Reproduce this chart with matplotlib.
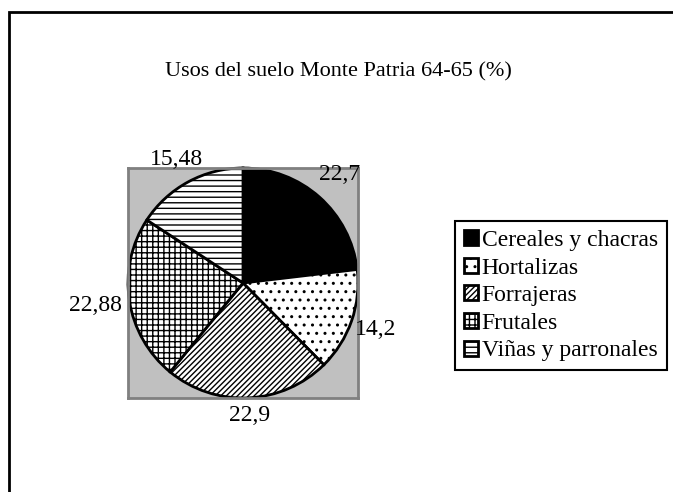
import matplotlib
matplotlib.use('Agg')
import numpy as np
import matplotlib.pyplot as plt
from matplotlib.patches import Rectangle

plt.rcParams['font.family'] = ['Liberation Serif', 'DejaVu Serif']
plt.rcParams['hatch.linewidth'] = 1.0

# Data
categories = ['Cereales y chacras', 'Hortalizas', 'Forrajeras', 'Frutales', 'Viñas y parronales']
values = [22.7, 14.2, 22.9, 22.88, 15.48]
value_labels = ['22,7', '14,2', '22,9', '22,88', '15,48']
hatches = ['', '..', '//////', '+++', '---']
fills = ['black', 'white', 'white', 'white', 'white']
label_r = [1.26, 1.22, 1.15, 1.3, 1.22]  # radial distance of each value label

fig = plt.figure(figsize=(6.73, 4.92), dpi=100)

# outer chart frame (cut off at right and bottom like the original)
fig.add_artist(Rectangle((9 / 673, -0.1), 1.2, 1 - 12 / 492 + 0.1,
                         transform=fig.transFigure, fill=False,
                         edgecolor='black', linewidth=2))

fig.text(338 / 673, 1 - 72 / 492, 'Usos del suelo Monte Patria 64-65 (%)',
         ha='center', va='center', fontsize=16)

ax = fig.add_axes([128 / 673, (492 - 398) / 492, 230 / 673, 230 / 492])
wedges, texts = ax.pie(values, labels=value_labels, startangle=90, counterclock=False,
                       labeldistance=1.2, radius=1.0,
                       wedgeprops=dict(edgecolor='black', linewidth=2),
                       textprops=dict(fontsize=17))
for w, h, c in zip(wedges, hatches, fills):
    w.set_facecolor(c)
    w.set_hatch(h)
    w.set_clip_on(False)
for w, t, r in zip(wedges, texts, label_r):
    ang = np.deg2rad((w.theta1 + w.theta2) / 2)
    t.set_position((r * np.cos(ang), r * np.sin(ang)))
    t.set_ha('center')
    t.set_va('center')

ax.set_xlim(-1, 1)
ax.set_ylim(-1, 1)
ax.set_frame_on(True)
ax.set_facecolor('#c0c0c0')
for s in ax.spines.values():
    s.set_color('#808080')
    s.set_linewidth(2)
ax.set_xticks([])
ax.set_yticks([])

leg = fig.legend(wedges, categories, loc='upper left',
                 bbox_to_anchor=(455 / 673, 1 - 221 / 492), borderaxespad=0,
                 fontsize=17, handlelength=0.6, handleheight=0.6, handletextpad=0.15,
                 labelspacing=0.28, fancybox=False, framealpha=1, edgecolor='black',
                 borderpad=0.38)
leg.get_frame().set_linewidth(1.5)

plt.savefig('out.png', dpi=100)
